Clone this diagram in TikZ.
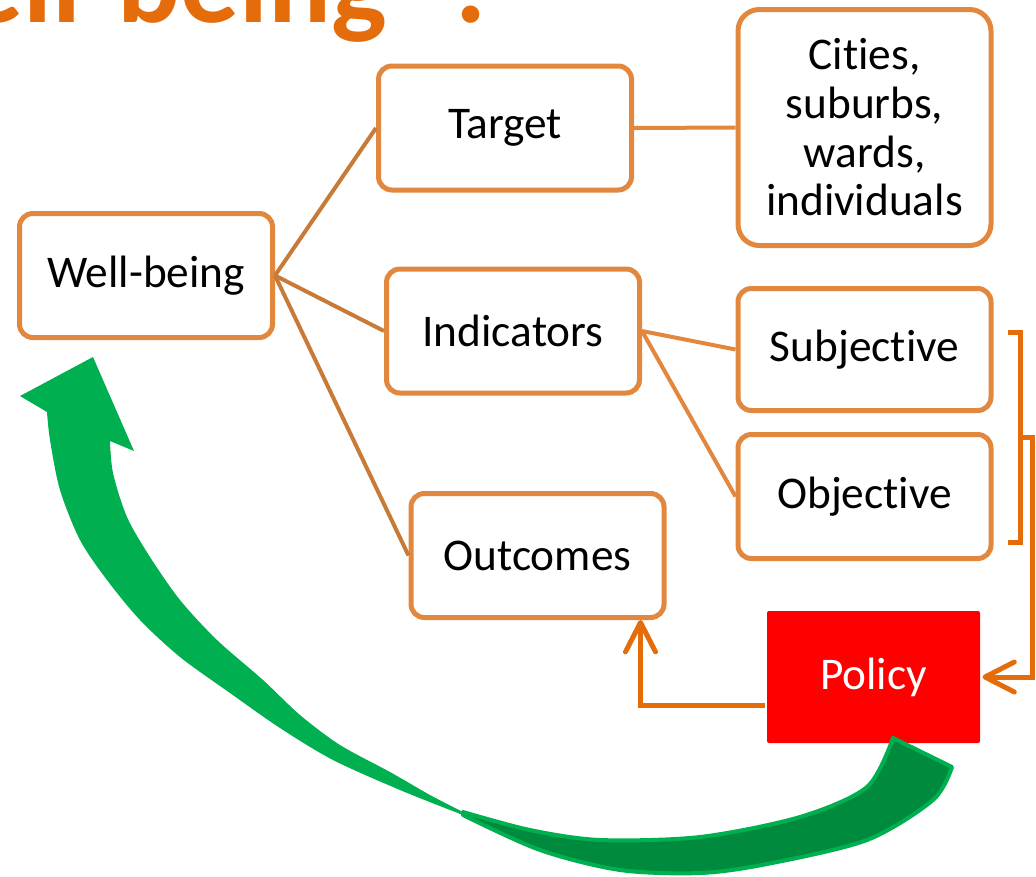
\documentclass[tikz,border=0pt]{standalone}
\usepackage{fontspec}
\setmainfont{Carlito}[Ligatures=NoCommon]
\usetikzlibrary{arrows.meta,calc}
\definecolor{boxline}{RGB}{226,135,62}
\definecolor{linkline}{RGB}{200,123,56}
\definecolor{flow}{RGB}{228,108,10}
\definecolor{leaf}{RGB}{0,176,80}
\definecolor{leafdark}{RGB}{0,138,62}
\definecolor{policyred}{RGB}{255,0,0}
% keep "t" and "i" as separate glyphs
\newcommand{\nolig}{\kern0pt\relax}
\begin{document}
\begin{tikzpicture}[x=0.75pt,y=-0.75pt,
  box/.style={draw=boxline, line width=3.75pt, rounded corners=10pt, fill=white,
    align=center, minimum width=189.75pt, minimum height=93pt, inner sep=0pt,
    font=\fontsize{34}{36.5}\selectfont},
  link/.style={draw=linkline, line width=3pt},
  leaflink/.style={draw=boxline, line width=3pt},
  flowline/.style={draw=flow, line width=3.75pt},
  flowarrow/.style={flowline, line join=miter,
    -{Straight Barb[length=22pt,width=22.5pt,round]}},
  title/.style={text=flow, inner sep=0pt,
    font=\fontsize{88}{90}\bfseries\selectfont}
]
\useasboundingbox (0,0) rectangle (1036,876);

% heading, cut by the page edge
\begin{scope}
  \clip (0,0) rectangle (1036,876);
  \node[title, anchor=base east] (h1) at (117.5,22) {well-};
  \node[title, anchor=base west] (h2) at (117.5,22) {being};
  \node[title, anchor=base west] (h3) at (446,22) {?};
\end{scope}

% boxes
\node[box] (wb) at (146,275.5) {Well-being};
\node[box] (tg) at (505,128) {Target};
\node[box, minimum height=177pt, rounded corners=16pt] (ct) at (864.5,127.5)
  {Cities,\\suburbs,\\wards,\\individuals};
\node[box] (ind) at (513,331) {Indicators};
\node[box, minimum height=91.5pt] (sub) at (864.5,349.5) {Subjec\nolig tive};
\node[box] (obj) at (864.5,496.5) {Objec\nolig tive};
\node[box] (out) at (537.5,555.5) {Outcomes};
\node[box, draw=none, fill=policyred, text=white, minimum width=159.75pt,
  minimum height=99pt, rounded corners=1.5pt] (pol) at (873.5,677) {Policy};

% tree links
\draw[link] (wb.east) -- (tg.west);
\draw[link] (wb.east) -- (ind.west);
\draw[link] (wb.east) -- (out.west);
\draw[leaflink] (tg.east) -- (ct.west);
\draw[leaflink] (ind.east) -- (sub.west);
\draw[leaflink] (ind.east) -- (obj.west);

% bracket gathering the indicators, feeding policy
\coordinate (bt) at (1020,332);
\coordinate (bb) at (1020,542);
\coordinate (bm) at (1020,437);
\draw[flowline, line join=miter] ($(bt)+(-12,0)$) -- (bt) -- (bb) -- ++(-12,0);
\draw[flowarrow] (bm) -- ++(12,0) |- (pol.east);

% policy leads to outcomes
\draw[flowarrow] ($(pol.west)+(0,28)$) -| ($(out.south)+(103,0)$);

% curved feedback arrow: upper face
\fill[leaf] (93,357) -- (134,451) -- (110,441)
  -- plot[smooth] coordinates {(110,441) (113,473) (127,517) (150,557) (180,600)
      (217,640) (263,680) (300,715) (340,745) (390,772) (430,795) (463,812)}
  -- plot[smooth] coordinates {(463,815) (400,790) (333,760) (280,728) (230,693)
      (180,657) (140,620) (107,580) (80,540) (60,490) (50,440) (47,412)}
  -- (20,396) -- cycle;
% curved feedback arrow: twisted tail
\filldraw[fill=leafdark, draw=leaf, line width=3pt, line join=round]
  plot[smooth] coordinates {(463,812) (530,830) (600,840) (700,837) (800,817)
      (867,787) (893,738)}
  -- (952,767)
  -- plot[smooth] coordinates {(952,767) (933,800) (867,840) (767,864) (700,873)
      (620,870) (540,850) (463,815)}
  -- cycle;
\end{tikzpicture}
\end{document}
